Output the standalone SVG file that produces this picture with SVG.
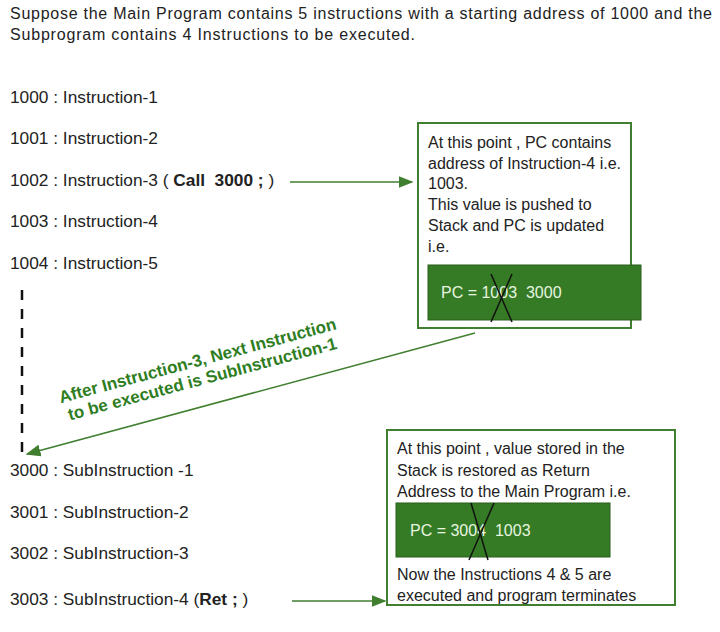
<svg xmlns="http://www.w3.org/2000/svg" width="720" height="632" viewBox="0 0 720 632">
<style>
text{font-family:"Liberation Sans",Arial,sans-serif;font-size:17.3px;fill:#222;white-space:pre}
.s{font-size:16px}
.b{font-weight:bold}
.g{fill:#2e7d1f;font-size:17px}
.w{fill:#e8f5e0}
.box{fill:#fff;stroke:#3f7f2f;stroke-width:2}
.reg{fill:#357a24;stroke:#2a5e1c}
.conn{stroke:#3f7f2f;stroke-width:1.5;fill:none;marker-end:url(#ah)}
.x{stroke:#111;stroke-width:1.5}
</style>
<defs><marker id="ah" markerWidth="10" markerHeight="8" refX="9" refY="4" orient="auto"><path d="M0,0L10,4L0,8z" fill="#3f7f2f"/></marker></defs>
<rect width="720" height="632" fill="#fff"/>
<text class="s" x="10" y="19" textLength="702">Suppose the Main Program contains 5 instructions with a starting address of 1000 and the</text>
<text class="s" x="10" y="40" textLength="405">Subprogram contains 4 Instructions to be executed.</text>
<g id="main">
<text x="10" y="103">1000 : Instruction-1</text>
<text x="10" y="144">1001 : Instruction-2</text>
<text x="10" y="186">1002 : Instruction-3 ( <tspan class="b">Call  3000 ;</tspan> )</text>
<text x="10" y="227">1003 : Instruction-4</text>
<text x="10" y="269">1004 : Instruction-5</text>
</g>
<g id="sub">
<text x="10" y="476">3000 : SubInstruction -1</text>
<text x="10" y="518">3001 : SubInstruction-2</text>
<text x="10" y="559">3002 : SubInstruction-3</text>
<text x="10" y="605">3003 : SubInstruction-4 (<tspan class="b">Ret ;</tspan> )</text>
</g>
<g id="box1">
<rect class="box" x="418" y="123" width="213" height="205"/>
<text class="s" x="428" y="148">At this point , PC contains</text>
<text class="s" x="428" y="169">address of Instruction-4 i.e.</text>
<text class="s" x="428" y="189">1003.</text>
<text class="s" x="428" y="210">This value is pushed to</text>
<text class="s" x="428" y="231">Stack and PC is updated</text>
<text class="s" x="428" y="252">i.e.</text>
<rect class="reg" x="428" y="265" width="213" height="55"/>
<text class="s w" x="441" y="298">PC = 1003  3000</text>
<line class="x" x1="491" y1="274" x2="512" y2="322"/>
<line class="x" x1="512" y1="274" x2="491" y2="322"/>
</g>
<g id="box2">
<rect class="box" x="387" y="430" width="288" height="175"/>
<text class="s" x="397" y="454">At this point , value stored in the</text>
<text class="s" x="397" y="476">Stack is restored as Return</text>
<text class="s" x="397" y="497">Address to the Main Program i.e.</text>
<rect class="reg" x="396" y="503" width="214" height="54"/>
<text class="s w" x="410" y="536">PC = 3004  1003</text>
<line class="x" x1="471" y1="503" x2="488" y2="560"/>
<line class="x" x1="494" y1="503" x2="469" y2="560"/>
<text class="s" x="397" y="580">Now the Instructions 4 &amp; 5 are</text>
<text class="s" x="397" y="601">executed and program terminates</text>
</g>
<g id="connectors">
<line x1="22" y1="290" x2="22" y2="455" stroke="#111" stroke-width="2.5" stroke-dasharray="10,9"/>
<path class="conn" d="M290,182H412"/>
<path class="conn" d="M292,601H385"/>
<path class="conn" d="M475,333L27,454"/>
<g transform="translate(200,370) rotate(-15)">
<text class="g b" x="0" y="-4" text-anchor="middle">After Instruction-3, Next Instruction</text>
<text class="g b" x="0" y="15" text-anchor="middle">to be executed is SubInstruction-1</text>
</g>
</g>
</svg>
